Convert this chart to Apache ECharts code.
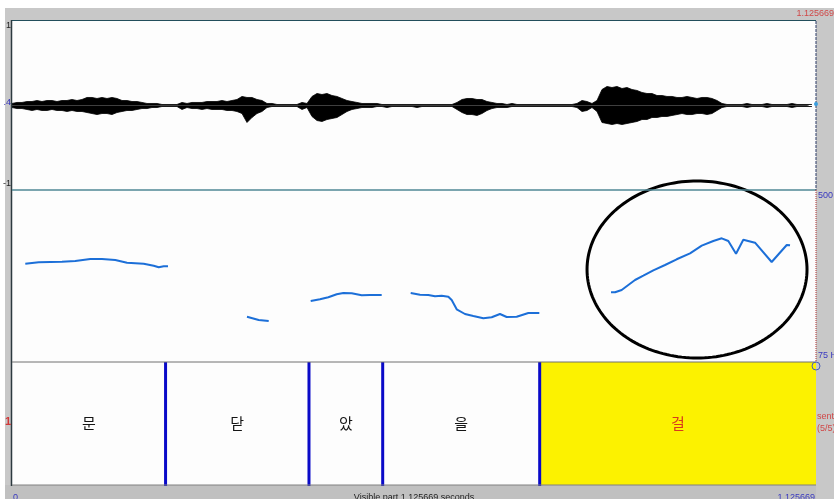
<!DOCTYPE html>
<html>
<head>
<meta charset="utf-8">
<script src="https://cdn.jsdelivr.net/npm/echarts@6/dist/echarts.min.js"></script>
<style>
html, body { margin: 0; padding: 0; background: #fff; }
#chart { width: 834px; height: 499px; }
</style>
</head>
<body>
<div id="chart"></div>
<script>
// Total length of the recording (s)
const duration = 1.125669;

// Waveform amplitude envelope, one sample every waveStep seconds
const waveStep = 0.0070004;
const waveUpper = [
  0.024,0.036,0.036,0.047,0.047,0.059,0.047,0.059,0.059,0.047,0.059,0.059,0.071,0.059,0.071,
  0.095,0.095,0.083,0.095,0.083,0.095,0.083,0.059,0.059,0.047,0.047,0.036,0.024,0.024,0.024,
  0.012,0.012,0.012,0.012,0.036,0.024,0.036,0.036,0.036,0.047,0.047,0.047,0.059,0.047,0.059,
  0.071,0.107,0.095,0.095,0.071,0.059,0.024,0.024,0.012,0.012,0.012,0.012,0.012,0.036,0.024,
  0.107,0.142,0.130,0.142,0.118,0.107,0.083,0.059,0.047,0.036,0.024,0.024,0.024,0.024,0.012,
  0.012,0.012,0.012,0.012,0.012,0.012,0.012,0.012,0.012,0.012,0.012,0.012,0.012,0.012,0.036,
  0.071,0.083,0.083,0.071,0.071,0.047,0.036,0.024,0.024,0.012,0.024,0.012,0.012,0.012,0.012,
  0.012,0.012,0.012,0.012,0.012,0.012,0.012,0.012,0.024,0.059,0.047,0.024,0.059,0.189,0.225,
  0.213,0.225,0.201,0.213,0.189,0.178,0.154,0.142,0.142,0.118,0.118,0.107,0.107,0.095,0.095,
  0.107,0.095,0.083,0.095,0.095,0.083,0.059,0.024,0.012,0.012,0.012,0.012,0.024,0.012,0.012,
  0.012,0.024,0.012,0.012,0.012,0.012,0.024,0.012,0.012,0.012,0.012
];
const waveLower = [
  -0.024,-0.036,-0.036,-0.047,-0.059,-0.047,-0.059,-0.059,-0.047,-0.059,-0.059,-0.071,-0.059,-0.071,-0.071,
  -0.083,-0.095,-0.107,-0.095,-0.095,-0.107,-0.083,-0.071,-0.059,-0.059,-0.047,-0.036,-0.036,-0.024,-0.024,
  -0.012,-0.012,-0.012,-0.012,-0.047,-0.024,-0.036,-0.036,-0.047,-0.036,-0.047,-0.047,-0.047,-0.059,-0.059,
  -0.071,-0.095,-0.201,-0.142,-0.095,-0.071,-0.024,-0.012,-0.012,-0.012,-0.012,-0.012,-0.012,-0.047,-0.024,
  -0.130,-0.178,-0.189,-0.166,-0.154,-0.142,-0.107,-0.071,-0.047,-0.036,-0.024,-0.024,-0.024,-0.012,-0.012,
  -0.024,-0.012,-0.012,-0.012,-0.012,-0.012,-0.024,-0.012,-0.012,-0.012,-0.012,-0.012,-0.012,-0.012,-0.047,
  -0.083,-0.107,-0.107,-0.118,-0.095,-0.059,-0.036,-0.024,-0.024,-0.024,-0.012,-0.012,-0.012,-0.012,-0.012,
  -0.012,-0.012,-0.012,-0.012,-0.012,-0.012,-0.012,-0.012,-0.024,-0.071,-0.059,-0.024,-0.071,-0.201,-0.213,
  -0.225,-0.213,-0.225,-0.213,-0.201,-0.189,-0.166,-0.166,-0.142,-0.142,-0.130,-0.130,-0.118,-0.107,-0.095,
  -0.107,-0.107,-0.095,-0.095,-0.107,-0.095,-0.059,-0.024,-0.012,-0.012,-0.012,-0.012,-0.024,-0.012,-0.012,
  -0.012,-0.024,-0.012,-0.012,-0.012,-0.012,-0.024,-0.012,-0.012,-0.012,-0.012
];

// Pitch contour (time s, F0 Hz), one array per voiced stretch
const pitch1 = [[0.0186,317.9],[0.0374,321.4],[0.0700,322.8],[0.0886,324.6],[0.1096,329.5],[0.1260,329.5],
  [0.1446,327.0],[0.1610,320.4],[0.1844,317.9],[0.1984,312.9],[0.2054,309.0],[0.2124,311.5],[0.2184,311.5]];
const pitch2 = [[0.3290,186.9],[0.3454,178.8],[0.3594,176.3]];
const pitch3 = [[0.4182,225.7],[0.4312,229.9],[0.4429,234.9],[0.4546,242.3],[0.4639,245.5],[0.4756,244.8],
  [0.4896,239.8],[0.5012,240.6],[0.5176,240.6]];
const pitch4 = [[0.5582,245.5],[0.5712,241.3],[0.5829,240.6],[0.5922,237.3],[0.6016,238.8],[0.6109,236.4],
  [0.6156,228.2],[0.6226,205.2],[0.6342,193.6],[0.6459,188.7],[0.6599,183.0],[0.6716,185.5],[0.6832,193.6],
  [0.6926,186.2],[0.7066,186.9],[0.7229,196.1],[0.7383,196.1]];
const pitch5 = [[0.8387,247.2],[0.8443,247.2],[0.8536,252.9],[0.8629,265.3],[0.8723,277.6],[0.8839,288.2],
  [0.8979,301.6],[0.9143,314.7],[0.9306,328.8],[0.9493,343.6],[0.9657,362.4],[0.9819,374.0],[0.9937,380.6],
  [1.0029,374.0],[1.0137,342.6],[1.0239,377.2],[1.0403,369.8],[1.0636,322.1],[1.0847,364.1],[1.0893,363.4]];
const pitchRange = [75, 500];

// Text grid tier: interval boundaries (s) and labels
const boundaries = [0, 0.2150, 0.4158, 0.5190, 0.7388, duration];
const intervalLabels = ['문', '닫', '았', '을', '걸'];
const selectedInterval = 4;

// Ellipse around the final pitch rise: centre (s, Hz) and radii (s, Hz)
const highlight = { t: 0.9591, f: 303.6, rt: 0.1540, rf: 218.7 };

const chart = echarts.init(document.getElementById('chart'), null, { renderer: 'canvas' });

const L = 12, R = 816;
const grids = [
  { left: L, top: 21, width: R - L, height: 169 },
  { left: L, top: 190, width: R - L, height: 172 },
  { left: L, top: 362, width: R - L, height: 123 }
];
const timeAxis = i => ({ type: 'value', gridIndex: i, min: 0, max: duration, show: false });

const intervals = boundaries.slice(0, -1).map((b, i) => [b, boundaries[i + 1]]);
const inner = boundaries.slice(1, -1).map(b => [b]);

const pitchSeries = [pitch1, pitch2, pitch3, pitch4, pitch5].map(seg => ({
  type: 'line', xAxisIndex: 1, yAxisIndex: 1, data: seg, showSymbol: false, symbol: 'none',
  lineStyle: { color: '#1c6fd8', width: 2 }, silent: true, z: 5
}));

const FONT = '9px "Liberation Sans", Arial, sans-serif';
const txt = (text, x, y, color, extra) => Object.assign({
  type: 'text', z: 60, silent: true,
  style: Object.assign({ text, x, y, fill: color, font: FONT }, extra || {})
});

chart.setOption({
  animation: false,
  backgroundColor: '#ffffff',
  grid: grids,
  xAxis: [timeAxis(0), timeAxis(1), timeAxis(2)],
  yAxis: [
    { type: 'value', gridIndex: 0, min: -1, max: 1, show: false },
    { type: 'value', gridIndex: 1, min: pitchRange[0], max: pitchRange[1], show: false },
    { type: 'value', gridIndex: 2, min: 0, max: 1, show: false }
  ],
  graphic: [
    // frame backgrounds
    { type: 'rect', z: -5, silent: true, shape: { x: 5, y: 8, width: 829, height: 491 }, style: { fill: '#c8c8c8' } },
    { type: 'rect', z: -4, silent: true, shape: { x: 5, y: 485, width: 811, height: 14 }, style: { fill: '#c0c0c0' } },
    { type: 'rect', z: -3, silent: true, shape: { x: L, y: 21, width: R - L, height: 464 }, style: { fill: '#fdfdfd' } },
    // panel borders
    { type: 'line', z: 50, silent: true, shape: { x1: L, y1: 20.5, x2: R, y2: 20.5 }, style: { stroke: '#234e5c', lineWidth: 1.2 } },
    { type: 'line', z: 50, silent: true, shape: { x1: L - 0.5, y1: 20, x2: L - 0.5, y2: 486 }, style: { stroke: '#2d3a40', lineWidth: 1.5 } },
    { type: 'line', z: 50, silent: true, shape: { x1: L, y1: 190, x2: R, y2: 190 }, style: { stroke: '#4f8795', lineWidth: 1.5 } },
    { type: 'line', z: 50, silent: true, shape: { x1: R, y1: 21, x2: R, y2: 190 }, style: { stroke: '#2a3a66', lineWidth: 1, lineDash: [3, 1] } },
    { type: 'line', z: 50, silent: true, shape: { x1: R, y1: 190, x2: R, y2: 362 }, style: { stroke: '#b03030', lineWidth: 1, lineDash: [1, 1] } },
    { type: 'line', z: 50, silent: true, shape: { x1: L, y1: 362, x2: R, y2: 362 }, style: { stroke: '#707070', lineWidth: 1 } },
    { type: 'line', z: 50, silent: true, shape: { x1: L, y1: 485, x2: R, y2: 485 }, style: { stroke: '#808080', lineWidth: 1 } },
    { type: 'circle', z: 55, silent: true, shape: { cx: R, cy: 104, r: 2 }, style: { fill: '#3aa0e0' } },
    { type: 'circle', z: 55, silent: true, shape: { cx: R, cy: 366, r: 4 }, style: { fill: 'none', stroke: '#4a5fb8', lineWidth: 1 } },
    // axis and status texts
    txt('1', 11, 26, '#222', { align: 'right', verticalAlign: 'middle' }),
    txt('.4', 11, 103, '#3030b8', { align: 'right', verticalAlign: 'middle' }),
    txt('-1', 11, 184, '#222', { align: 'right', verticalAlign: 'middle' }),
    txt('1', 8, 422, '#d03838', { align: 'center', verticalAlign: 'middle', font: 'bold 11px "Liberation Sans", Arial, sans-serif' }),
    txt('1.125669', 834, 14, '#d04848', { align: 'right', verticalAlign: 'middle' }),
    txt('500', 818, 196, '#3838c0', { align: 'left', verticalAlign: 'middle' }),
    txt('75 Hz', 818, 356, '#3838c0', { align: 'left', verticalAlign: 'middle' }),
    txt('sentence', 817, 417, '#d04848', { align: 'left', verticalAlign: 'middle' }),
    txt('(5/5)', 817, 429, '#d04848', { align: 'left', verticalAlign: 'middle' }),
    txt('0', 13, 493, '#3838c0', { align: 'left', verticalAlign: 'top' }),
    txt('Visible part 1.125669 seconds', 414, 493, '#222', { align: 'center', verticalAlign: 'top' }),
    txt('1.125669', 815, 493, '#3838c0', { align: 'right', verticalAlign: 'top' })
  ],
  series: [
    {
      name: 'wave+', type: 'line', xAxisIndex: 0, yAxisIndex: 0, silent: true, showSymbol: false, symbol: 'none',
      data: waveUpper.map((v, i) => [i * waveStep, v]),
      lineStyle: { color: '#000', width: 0.8 }, areaStyle: { color: '#000', opacity: 1 }
    },
    {
      name: 'wave-', type: 'line', xAxisIndex: 0, yAxisIndex: 0, silent: true, showSymbol: false, symbol: 'none',
      data: waveLower.map((v, i) => [i * waveStep, v]),
      lineStyle: { color: '#000', width: 0.8 }, areaStyle: { color: '#000', opacity: 1 }
    },
    ...pitchSeries,
    {
      name: 'highlight', type: 'custom', xAxisIndex: 1, yAxisIndex: 1, silent: true, z: 20,
      data: [[highlight.t, highlight.f]],
      renderItem: (params, api) => {
        const c = api.coord([api.value(0), api.value(1)]);
        const sz = api.size([highlight.rt, highlight.rf]);
        const pts = [];
        for (let k = 0; k < 180; k++) {
          const a = (k / 180) * Math.PI * 2;
          pts.push([c[0] + sz[0] * Math.cos(a), c[1] + sz[1] * Math.sin(a)]);
        }
        return { type: 'polygon', shape: { points: pts }, style: { fill: 'none', stroke: '#000', lineWidth: 3 } };
      }
    },
    {
      name: 'intervals', type: 'custom', xAxisIndex: 2, yAxisIndex: 2, silent: true, z: 3,
      data: intervals,
      renderItem: (params, api) => {
        const idx = params.dataIndex;
        const s = api.coord([api.value(0), 1]);
        const e = api.coord([api.value(1), 0]);
        const children = [];
        if (idx === selectedInterval) {
          children.push({ type: 'rect', shape: { x: s[0], y: s[1], width: e[0] - s[0], height: e[1] - s[1] }, style: { fill: '#fcf200' } });
        }
        children.push({
          type: 'text',
          style: {
            text: intervalLabels[idx], x: (s[0] + e[0]) / 2, y: (s[1] + e[1]) / 2,
            align: 'center', verticalAlign: 'middle',
            font: '15px "Noto Sans CJK KR", sans-serif',
            fill: idx === selectedInterval ? '#d83a1c' : '#151515'
          }
        });
        return { type: 'group', children };
      }
    },
    {
      name: 'boundaries', type: 'custom', xAxisIndex: 2, yAxisIndex: 2, silent: true, z: 6,
      data: inner,
      renderItem: (params, api) => {
        const top = api.coord([api.value(0), 1]);
        const bot = api.coord([api.value(0), 0]);
        return { type: 'line', shape: { x1: top[0], y1: top[1], x2: bot[0], y2: bot[1] + 1 }, style: { stroke: '#0a0ac8', lineWidth: 3 } };
      }
    }
  ]
});
</script>
</body>
</html>
